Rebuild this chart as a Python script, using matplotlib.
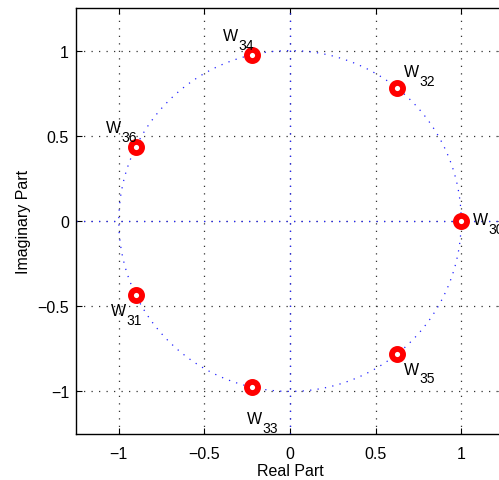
import numpy as np
import matplotlib
matplotlib.use("Agg")
import matplotlib.pyplot as plt

plt.rcParams['font.family'] = ['Liberation Sans', 'DejaVu Sans']

subs = ["30", "31", "32", "33", "34", "35", "36"]
re_vals = [1.0, -0.901, 0.623, -0.2225, -0.2225, 0.623, -0.901]
im_vals = [0.0, -0.434, 0.782, -0.975, 0.975, -0.782, 0.434]
label_x = [1.070, -1.047, 0.667, -0.251, -0.392, 0.667, -1.076]
label_y = [-0.018, -0.551, 0.850, -1.185, 1.062, -0.897, 0.522]
xticks = [-1, -0.5, 0, 0.5, 1]
yticks = [-1, -0.5, 0, 0.5, 1]
tick_text = ['\u22121', '\u22120.5', '0', '0.5', '1']

fig = plt.figure(figsize=(4.99, 4.81), dpi=100)
ax = fig.add_axes([0.1523, 0.0956, 0.8577, 0.8857])

dot = (0, (1, 5))
theta = np.linspace(0, 2 * np.pi, 400)
ax.plot(np.cos(theta), np.sin(theta), linestyle=dot, color='#2222ff', lw=0.9, zorder=2)
ax.axhline(0, linestyle=dot, color='#2222ff', lw=0.9, zorder=2)
ax.axvline(0, linestyle=dot, color='#2222ff', lw=0.9, zorder=2)

ax.plot(re_vals, im_vals, linestyle='none', marker='o', markersize=8,
        markeredgewidth=4.2, markeredgecolor='red', markerfacecolor='white', zorder=3)

for lx, ly, s in zip(label_x, label_y, subs):
    ax.text(lx, ly, "W", fontsize=11.5, ha='left', va='baseline', zorder=4)
    ax.annotate(s, xy=(lx, ly), xytext=(11.2, -6.2), textcoords='offset points',
                fontsize=10, ha='left', va='baseline', zorder=4)

ax.set_xlim(-1.25, 1.25)
ax.set_ylim(-1.25, 1.25)
ax.set_xticks(xticks)
ax.set_yticks(yticks)
ax.set_xticklabels(tick_text)
ax.set_yticklabels(tick_text)
ax.tick_params(direction='in', length=4, labelsize=11.5, top=True, right=True)
ax.tick_params(axis='x', pad=8.3)
ax.tick_params(axis='y', pad=5)
ax.grid(True, linestyle=dot, color='#333333', lw=0.9)
ax.set_axisbelow(True)
for sp in ax.spines.values():
    sp.set_linewidth(1.0)
ax.set_xlabel('Real Part', fontsize=11.5, labelpad=2)
ax.set_ylabel('Imaginary Part', fontsize=11.5, labelpad=4.5)

fig.savefig('out.png', dpi=100)
